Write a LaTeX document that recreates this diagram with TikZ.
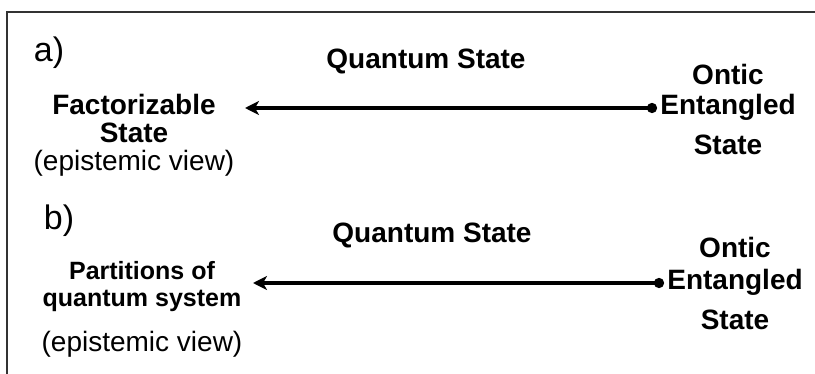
\documentclass[tikz,border=0pt]{standalone}
\usepackage{fontspec}
\setmainfont{Liberation Sans}
\usetikzlibrary{arrows.meta}
\begin{document}
\begin{tikzpicture}[x=1pt,y=-1pt,
  lbl/.style={anchor=base,inner sep=0pt,font=\fontsize{34}{34}\selectfont},
  ttl/.style={anchor=base,inner sep=0pt,font=\fontsize{28}{28}\selectfont\bfseries},
  blk/.style={anchor=base,inner sep=0pt},
  arr/.style={line width=4pt,{Circle[length=10pt]}-{Stealth[length=14pt,width=14pt,inset=4pt]}},
  frame/.style={line width=1.3pt,draw=black!80}]
\useasboundingbox (0,0) rectangle (815,374);
\draw[frame] (815,12) -- (7,12) -- (7,374);
% panel a
\node[lbl] (la) at (49,62) {a)};
\node[ttl] (qa) at (426,69) {Quantum State};
\node[blk] (facta) at (134,115) {\fontsize{28}{28}\selectfont\renewcommand\arraystretch{1}%
  \begin{tabular}[t]{@{}c@{}}\bfseries Factorizable\\ \bfseries State\\[-1pt] (epistemic view)\end{tabular}};
\node[blk] (onta) at (728,85) {\fontsize{28}{30}\selectfont\bfseries\renewcommand\arraystretch{1}%
  \begin{tabular}[t]{@{}c@{}}Ontic\\ Entangled\\[10pt] State\end{tabular}};
\coordinate (dotA) at (657,108);
\coordinate (tipA) at (245,108);
\draw[arr] (dotA) -- (tipA);
% panel b
\node[lbl] (lb) at (59,230) {b)};
\node[ttl] (qb) at (432,243) {Quantum State};
\node[blk] (factb) at (142,280) {\fontsize{25}{27}\selectfont\renewcommand\arraystretch{1}%
  \begin{tabular}[t]{@{}c@{}}\bfseries Partitions of\\ \bfseries quantum system\\[16pt] \fontsize{28}{28}\selectfont (epistemic view)\end{tabular}};
\node[blk] (ontb) at (735,258) {\fontsize{28}{32}\selectfont\bfseries\renewcommand\arraystretch{1}%
  \begin{tabular}[t]{@{}c@{}}Ontic\\ Entangled\\[8pt] State\end{tabular}};
\coordinate (dotB) at (664,283);
\coordinate (tipB) at (253,283);
\draw[arr] (dotB) -- (tipB);
\end{tikzpicture}
\end{document}
